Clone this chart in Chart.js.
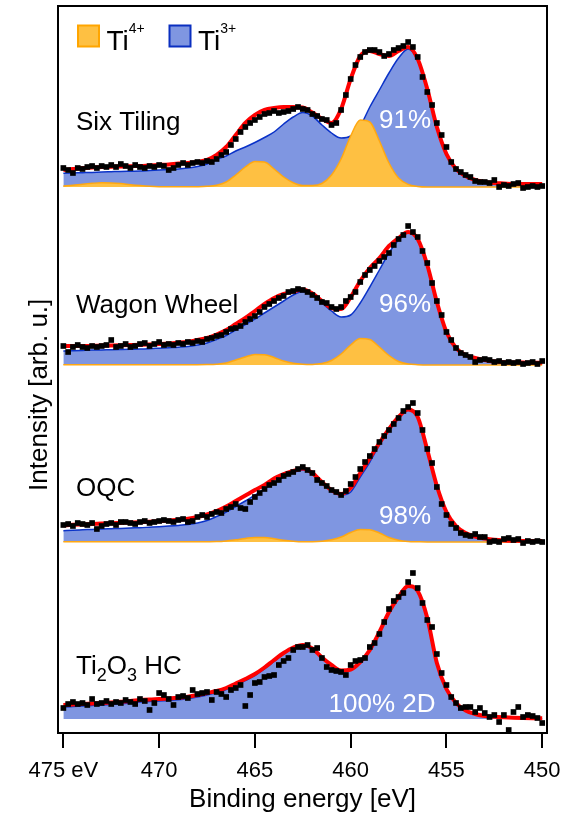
<!DOCTYPE html>
<html>
<head>
<meta charset="utf-8">
<script src="https://cdn.jsdelivr.net/npm/chart.js@4.4.0/dist/chart.umd.min.js"></script>
<style>
  html, body { margin: 0; padding: 0; background: #fff; }
  canvas { display: block; }
</style>
</head>
<body>
<canvas id="xps" width="567" height="816"></canvas>
<script>
// binding energies (eV): fit curves on a 0.5 eV grid, measured points on 0.25 eV
const curveE = [475,474.5,474,473.5,473,472.5,472,471.5,471,470.5,
  470,469.5,469,468.5,468,467.5,467,466.5,466,465.5,
  465,464.5,464,463.5,463,462.5,462,461.5,461,460.5,
  460,459.5,459,458.5,458,457.5,457,456.5,456,455.5,
  455,454.5,454,453.5,453,452.5,452,451.5,451,450.5,450];
const dataE = [475,474.75,474.5,474.25,474,473.75,473.5,473.25,473,472.75,
  472.5,472.25,472,471.75,471.5,471.25,471,470.75,470.5,470.25,
  470,469.75,469.5,469.25,469,468.75,468.5,468.25,468,467.75,
  467.5,467.25,467,466.75,466.5,466.25,466,465.75,465.5,465.25,
  465,464.75,464.5,464.25,464,463.75,463.5,463.25,463,462.75,
  462.5,462.25,462,461.75,461.5,461.25,461,460.75,460.5,460.25,
  460,459.75,459.5,459.25,459,458.75,458.5,458.25,458,457.75,
  457.5,457.25,457,456.75,456.5,456.25,456,455.75,455.5,455.25,
  455,454.75,454.5,454.25,454,453.75,453.5,453.25,453,452.75,
  452.5,452.25,452,451.75,451.5,451.25,451,450.75,450.5,450.25,450];
const xTicks = [475, 470, 465, 460, 455, 450];

// Six Tiling
const sixFit = [17,18,19,19.5,20,20.3,20.5,20.8,21,21.5,
  22,22.5,23.5,24,25,27,32,40,52,64,
  72,77,79,80,80,79.5,74.5,68.5,64,78,
  108,131,136,133,131,136,140,128,98,60,
  33,18,11,7,5,4,3.5,3,3,3,3];
const sixTi3 = [13.7,14,14.3,14.6,15,15.3,15.6,15.8,16,16.5,
  17,17.5,18,19,20.5,23,27.5,31,36,40,
  44.5,49.5,55,63,70,74.5,71,62,54,49,
  51,61,80,97,114,129,138,127,98,60,
  32,17,10,6.5,4,3,2.5,2.2,2,2,2];
const sixTi4 = [0.9,1.7,2.8,3.7,4.3,4.1,3.4,2.3,1.4,0.7,
  0.3,0.2,0.2,0.2,0.3,0.7,1.8,5,12,20,
  25.5,25,18,10,4.3,1.5,1.5,3.5,12,28,
  51,67,65,46,24,9,2.6,0.5,0,0,
  0,0,0,0,0,0,0,0,0,0,0];
const sixData = [19,17,14,19,18,20,21,19,21,20,
  22,20,23,21,19,22,20,19,21,20,
  22,21,17,19,22,24,22,24,25,24,
  26,25,28,32,35,42,48,55,60,64,
  67,70,73,74,76,74,75,76,78,80,
  78,77,73,71,68,67,62,64,77,92,
  108,122,130,135,137,137,135,131,133,137,
  139,141,145,140,130,110,95,82,64,52,
  40,25,18,15,12,10,6,5,5,4,
  7,0,2,1,3,4,-1,0,1,0,1];

// Wagon Wheel
const wagonFit = [19,19,19,19.2,19.4,19.6,19.8,20,20.2,20.6,
  21,21.5,22.3,23.3,25,27,30.5,35,41,47,
  54,61,67,71,73.5,75.5,71.5,64,57,56,
  68,84,97,107,119,127,133,126,100,63,
  33,17,10,7,5,3.5,2.8,2.5,2.4,2.3,2.3];
const wagonTi3 = [14,14.3,14.6,14.9,15.1,15.3,15.5,15.7,15.9,16.3,
  16.8,17.3,17.8,18.5,20,22,25.5,29.5,35,40.5,
  46,52,58,64,70,73.5,71,62,54,48,
  50,62,78,95,112,125,133,125,98,63,
  32,16,9,6.5,4.5,3.5,2.8,2.5,2.3,2.2,2.2];
const wagonTi4 = [0.3,0.3,0.3,0.3,0.3,0.3,0.3,0.3,0.3,0.3,
  0.3,0.3,0.3,0.3,0.3,0.4,0.8,2,5,8,
  10.5,10.3,7.5,4,1.8,0.8,0.6,1.4,4.5,11,
  20,26.5,25.5,18,9.5,3.5,1,0.3,0,0,
  0,0,0,0,0,0,0,0,0,0,0];
const wagonData = [19,13,18,20,18,17,19,18,19,20,
  25,18,19,21,18,19,21,22,19,21,
  23,20,21,20,22,21,23,22,24,23,
  26,27,29,30,33,36,37,39,43,46,
  49,53,58,61,64,67,69,73,74,76,
  75,73,70,67,63,62,58,56,58,64,
  68,73,83,90,95,99,104,108,112,120,
  126,130,139,133,128,114,102,82,64,50,
  33,25,17,12,10,8,3,5,6,5,
  3,4,2,3,2,3,1,2,3,1,4];

// OQC
const oqcFit = [16.7,17.2,17.6,18,18.4,18.8,19.1,19.4,19.7,20.2,
  20.8,21.5,22.2,23.2,25,27.5,31,35.5,41,46.5,
  52,57,63.5,68,71,73.5,69,60,52,48,
  54,69,84,99,113,125,132.5,125,92,56,
  30,16,9,5.5,3.5,2.2,1.5,1.2,1,1,1];
const oqcTi3 = [11.3,11.8,12.2,12.6,13,13.3,13.6,14,14.3,14.8,
  15.3,15.9,16.6,17.5,19,21.5,25.5,30,35.5,41,
  47,53,59.5,65,69.5,72,68,59,51.5,47,
  50,65,80,97,112,125,132,125,92,56,
  29,15,8.5,5,3,2,1.3,1,0.8,0.7,0.7];
const oqcTi4 = [0.2,0.2,0.2,0.2,0.2,0.2,0.2,0.2,0.2,0.2,
  0.2,0.2,0.2,0.2,0.2,0.3,0.4,1,2.2,3.6,
  4.6,4.5,3.3,1.8,0.8,0.3,0.3,0.7,2.2,5,
  9.5,12.5,12.3,9,4.5,1.7,0.5,0.2,0,0,
  0,0,0,0,0,0,0,0,0,0,0];
const oqcData = [17,18,16,19,18,17,19,13,16,18,
  19,17,20,20,19,18,20,21,19,20,
  21,22,21,20,22,23,20,21,25,27,
  25,28,30,29,33,35,38,34,33,40,
  45,49,53,57,59,62,66,68,70,73,
  75,72,69,62,59,56,52,50,47,51,
  58,65,73,80,86,93,100,106,112,118,
  124,131,135,139,129,112,93,79,55,38,
  27,18,14,9,7,6,8,5,5,0,
  1,0,3,4,2,3,-1,1,0,1,0];

// Ti2O3 HC (no Ti4+ component)
const hcFit = [14,14.5,15,15.5,16,16.6,17.3,18,19,19.6,
  20,20.5,21.2,22.3,24,26,28,31,35.5,40,
  45,51.5,59,66,71.5,74,70.5,61.5,54,48.5,
  49.5,57,69,87,107,122,133,128,101,56,
  30,16,8.5,5,3,2.2,1.7,1.3,1,0.8,0.7];
const hcTi3 = [12,12.5,13,13.5,14,14.6,15.3,16,17,17.6,
  18,18.5,19.2,20.3,22,24,26.5,29.5,34,38.5,
  43.5,50,57.5,65,71,73.5,70,61,53.5,48,
  49,56.5,68.5,86.5,106.5,121.5,132.5,127.5,100.5,55.5,
  29.5,15.5,8,4.5,2.5,1.7,1.2,0.8,0.5,0.3,0.2];
const hcData = [11,15,17,15,16,14,20,15,16,18,
  15,17,16,19,17,15,20,18,9,16,
  26,24,20,14,22,23,21,29,25,26,
  27,19,27,25,22,29,31,34,13,24,
  36,37,42,43,44,54,58,61,69,72,
  72,74,69,71,61,52,49,48,47,44,
  54,58,59,61,72,76,85,97,110,118,
  122,126,137,146,131,116,99,92,65,46,
  34,22,16,11,12,12,7,11,6,2,
  4,-3,4,-11,7,12,2,4,3,1,-4];

const panelNames = ['Six Tiling', 'Wagon Wheel', 'OQC', 'Ti2O3 HC'];
const shares = ['91%', '96%', '98%', '100% 2D'];
const panelOffsets = [546, 368, 191, 14];

const FONT = '"Liberation Sans", Arial, Helvetica, sans-serif';
const BLUE_FILL = '#7f96e1', BLUE_LINE = '#0a32c8';
const ORANGE_FILL = '#fec042', ORANGE_LINE = '#ffa812';
const RED = '#ff0000';

const panels = [
  { fit: sixFit, ti3: sixTi3, ti4: sixTi4, data: sixData },
  { fit: wagonFit, ti3: wagonTi3, ti4: wagonTi4, data: wagonData },
  { fit: oqcFit, ti3: oqcTi3, ti4: oqcTi4, data: oqcData },
  { fit: hcFit, ti3: hcTi3, ti4: null, data: hcData }
];

function pts(xs, ys, off) {
  return ys.map((y, i) => ({ x: xs[i], y: y + off }));
}

const datasets = [];
panels.forEach((p, k) => {
  const off = panelOffsets[k];
  datasets.push({
    data: pts(curveE, p.ti3, off), borderColor: BLUE_LINE, borderWidth: 1.5,
    backgroundColor: BLUE_FILL, fill: { value: off }, pointRadius: 0,
    cubicInterpolationMode: 'monotone', order: 4
  });
  if (p.ti4) {
    datasets.push({
      data: pts(curveE, p.ti4, off), borderColor: ORANGE_LINE, borderWidth: 1.5,
      backgroundColor: ORANGE_FILL, fill: { value: off }, pointRadius: 0,
      cubicInterpolationMode: 'monotone', order: 3
    });
  }
  datasets.push({
    data: pts(curveE, p.fit, off), borderColor: RED, borderWidth: 4,
    fill: false, pointRadius: 0, cubicInterpolationMode: 'monotone', order: 2
  });
  datasets.push({
    data: pts(dataE, p.data, off), showLine: false, pointStyle: 'rect',
    pointRadius: 4, pointBackgroundColor: '#000', pointBorderWidth: 0, order: 1
  });
});

function drawRich(ctx, parts, x, y) {
  // parts: [text, size, dy]
  for (const [t, size, dy] of parts) {
    ctx.font = size + 'px ' + FONT;
    ctx.fillText(t, x, y + dy);
    x += ctx.measureText(t).width;
  }
}

const annotations = {
  id: 'annotations',
  afterDatasetsDraw(chart) {
    const ctx = chart.ctx;
    const a = chart.chartArea;
    ctx.save();
    ctx.textBaseline = 'alphabetic';

    // percentage labels
    ctx.fillStyle = '#fff';
    ctx.textAlign = 'center';
    ctx.font = '26px ' + FONT;
    ctx.fillText(shares[0], 405, 128);
    ctx.fillText(shares[1], 405, 312);
    ctx.fillText(shares[2], 405, 524);
    ctx.fillText(shares[3], 382, 711.5);

    // sample names
    ctx.fillStyle = '#000';
    ctx.textAlign = 'left';
    ctx.font = '26px ' + FONT;
    ctx.fillText(panelNames[0], 76, 129.5);
    ctx.fillText(panelNames[1], 76, 312.5);
    ctx.fillText(panelNames[2], 76, 496);
    drawRich(ctx, [['Ti', 26, 0], ['2', 18, 6.5], ['O', 26, 0], ['3', 18, 6.5], [' HC', 26, 0]], 76, 674);

    // legend
    ctx.lineWidth = 2;
    ctx.fillStyle = ORANGE_FILL; ctx.strokeStyle = '#ffa500';
    ctx.fillRect(78, 25.5, 21, 21); ctx.strokeRect(78, 25.5, 21, 21);
    ctx.fillStyle = BLUE_FILL; ctx.strokeStyle = '#0a2fc0';
    ctx.fillRect(169.5, 25.5, 21, 21); ctx.strokeRect(169.5, 25.5, 21, 21);
    ctx.fillStyle = '#000';
    drawRich(ctx, [['Ti', 28, 0], ['4+', 14, -17]], 106.5, 49.5);
    drawRich(ctx, [['Ti', 28, 0], ['3+', 14, -17]], 198, 49.5);

    // frame
    ctx.strokeStyle = '#000';
    ctx.lineWidth = 2;
    ctx.strokeRect(a.left, a.top, a.right - a.left, a.bottom - a.top);
    ctx.restore();
  }
};

new Chart(document.getElementById('xps'), {
  type: 'line',
  data: { datasets },
  options: {
    responsive: false,
    devicePixelRatio: 1,
    animation: false,
    layout: { padding: { left: 20, right: 20, top: 6, bottom: 0 } },
    plugins: { legend: { display: false }, tooltip: { enabled: false } },
    scales: {
      x: {
        type: 'linear', reverse: true, min: 449.75, max: 475.28,
        afterBuildTicks: s => { s.ticks = xTicks.map(v => ({ value: v })); },
        grid: { display: true, drawOnChartArea: false, drawTicks: true, tickLength: 15, color: '#000', lineWidth: 2 },
        border: { display: false },
        ticks: {
          autoSkip: false, maxRotation: 0, padding: 4, color: '#000',
          font: { family: FONT, size: 22, lineHeight: 38 / 22 },
          callback: v => v === 475 ? '475 eV' : String(v)
        },
        title: {
          display: true, text: 'Binding energy [eV]', color: '#000',
          font: { family: FONT, size: 26, lineHeight: 1 },
          padding: { top: -7, bottom: 3 }
        }
      },
      y: {
        min: 0, max: 727,
        grid: { display: false, drawTicks: false },
        border: { display: false },
        ticks: { display: false },
        title: {
          display: true, text: 'Intensity [arb. u.]' + '\u00a0'.repeat(7), color: '#000',
          font: { family: FONT, size: 26, lineHeight: 1 },
          padding: { top: 7, bottom: 5 }
        }
      }
    }
  },
  plugins: [annotations]
});
</script>
</body>
</html>
